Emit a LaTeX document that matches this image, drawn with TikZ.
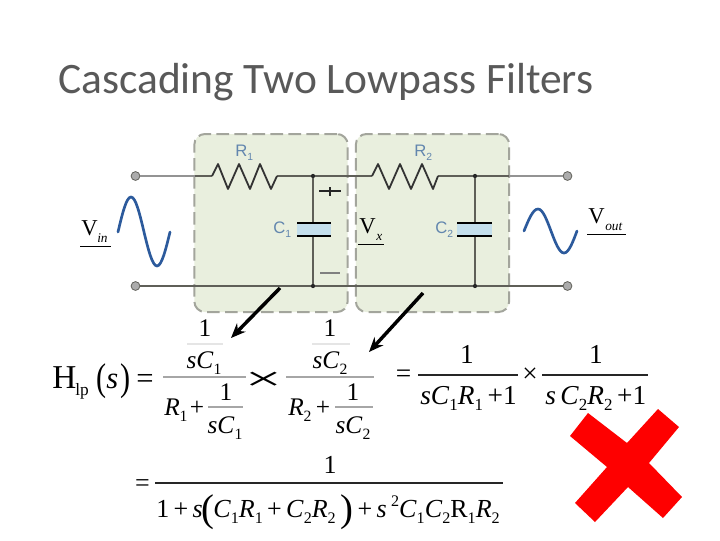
\documentclass[tikz,border=0pt]{standalone}
\usepackage{fontspec}
\usepackage{graphicx}
\setmainfont{Liberation Serif}
\newfontfamily\arialf{Liberation Sans}
\newfontfamily\titlef{Carlito}
\usetikzlibrary{arrows.meta}
\definecolor{boxfill}{HTML}{E9EFDE}
\definecolor{boxedge}{HTML}{A3A59C}
\definecolor{wirec}{HTML}{5F5F58}
\definecolor{labelc}{HTML}{6286AE}
\definecolor{sinec}{HTML}{2C5A9C}
\definecolor{capfill}{HTML}{C4DFEC}
\definecolor{xred}{HTML}{FE0000}
\newcommand\sbx[1]{\raisebox{-.24em}{\scalebox{.62}{#1}}}
\newcommand\spx[1]{\raisebox{.42em}{\scalebox{.62}{#1}}}
\newcommand\ii[1]{\textit{#1}}
\newcommand\szA{\fontsize{19}{20}\selectfont}
\newcommand\szR{\fontsize{20.5}{22}\selectfont}
\newcommand\szD{\fontsize{19.5}{21}\selectfont}
\tikzset{
  blockbox/.style={draw=boxedge,fill=boxfill,line width=1.5pt,rounded corners=8pt,dash pattern=on 9.5pt off 4pt},
  wire/.style={draw=wirec,line width=1.05pt},
  zig/.style={draw=black!80,line width=1.35pt,line join=round},
  outwire/.style={draw=gray!85,line width=1.15pt},
  term/.style={circle,draw=wirec,fill=gray!65,line width=.6pt,minimum size=6.6pt,inner sep=0pt},
  junct/.style={circle,fill=black!85,minimum size=3.2pt,inner sep=0pt},
  plate/.style={draw=black,line width=2.1pt},
  capbody/.style={fill=capfill,draw=none},
  sinew/.style={draw=sinec,line width=2pt,line cap=round},
  part/.style={font=\arialf\fontsize{12.5}{14}\selectfont,text=labelc,inner sep=0pt,anchor=base west},
  eq/.style={inner sep=0pt,anchor=base,font=\szA},
  eqw/.style={inner sep=0pt,anchor=base west,font=\szA},
  rq/.style={inner sep=0pt,anchor=base,font=\szR},
  rqw/.style={inner sep=0pt,anchor=base west,font=\szR},
  dq/.style={inner sep=0pt,anchor=base,font=\szD},
  dqw/.style={inner sep=0pt,anchor=base west,font=\szD},
  dqe/.style={inner sep=0pt,anchor=base east,font=\szD},
  bigp/.style={inner sep=0pt,anchor=base west,font=\fontsize{29}{31}\selectfont},
  volt/.style={inner sep=0pt,anchor=base west,font=\fontsize{17}{18}\selectfont},
  voltsub/.style={inner sep=0pt,anchor=base west,font=\fontsize{10}{11}\selectfont},
  voltrule/.style={draw=black,line width=.6pt},
  fracrule/.style={draw=black!85,line width=.95pt},
  softrule/.style={draw=gray!70,line width=.95pt},
  faintrule/.style={draw=gray!20,line width=.8pt},
  pointer/.style={draw=black,line width=2.6pt,-{Stealth[length=11pt,width=9pt]}},
  polar/.style={draw=black!85,line width=.8pt}
}
\begin{document}
\begin{tikzpicture}[x=.75pt,y=-.75pt]
\useasboundingbox (0,0) rectangle (720,540);
\fill[white] (0,0) rectangle (720,540);
\node[inner sep=0pt,anchor=base west,font=\titlef\fontsize{32.6}{36}\selectfont,text=black!65] (title) at (58,93) {Cascading Two Lowpass Filters};
% blocks
\node[blockbox,minimum width=115pt,minimum height=133.5pt,inner sep=0pt] (blockA) at (271,223) {};
\node[blockbox,minimum width=115pt,minimum height=133.5pt,inner sep=0pt] (blockB) at (432.5,223) {};
% circuit points
\node[term] (tl) at (135.5,176) {};
\node[term] (bl) at (135.5,286) {};
\node[term] (tr) at (567.5,176) {};
\node[term] (br) at (567.5,286) {};
\node[junct] (j1t) at (313,176) {};
\node[junct] (j1b) at (313,286) {};
\node[junct] (j2t) at (475,176) {};
\node[junct] (j2b) at (475,286) {};
\coordinate (r1a) at (212,176);
\coordinate (r1b) at (277,176);
\coordinate (r2a) at (372,176);
\coordinate (r2b) at (438,176);
\coordinate (c1t) at (313,223);
\coordinate (c1b) at (313,236);
\coordinate (c2t) at (475,223);
\coordinate (c2b) at (475,236);
% wires
\draw[outwire] (tl) -- (195,176);
\draw[wire] (195,176) -- (r1a);
\draw[wire] (r1b) -- (j1t) -- (r2a);
\draw[wire] (r2b) -- (j2t) -- (509,176);
\draw[outwire] (509,176) -- (tr);
\draw[wire] (bl) -- (j1b) -- (j2b) -- (br);
\draw[zig] (r1a) -- (218,164) -- (228,189) -- (239,164) -- (250,189) -- (260,164) -- (271,189) -- (r1b);
\draw[zig] (r2a) -- (378,164) -- (389,189) -- (400,164) -- (411,189) -- (422,164) -- (433,189) -- (r2b);
\draw[wire] (j1t) -- (c1t);
\draw[wire] (c1b) -- (j1b);
\draw[wire] (j2t) -- (c2t);
\draw[wire] (c2b) -- (j2b);
% capacitors
\fill[capbody] (297,223) rectangle (331,236);
\draw[plate] (297,223) -- (331,223);
\draw[plate] (297,236) -- (331,236);
\fill[capbody] (457,223) rectangle (492,236);
\draw[plate] (457,223) -- (492,223);
\draw[plate] (457,236) -- (492,236);
% polarity
\draw[polar] (319,191) -- (341,191);
\draw[polar] (330,187) -- (330,196);
\draw[draw=gray,line width=.9pt] (320,273) -- (340,273);
% part labels
\node[part] (R1) at (235,156) {R\sbx{1}};
\node[part] (C1) at (273,233) {C\sbx{1}};
\node[part] (R2) at (414,156) {R\sbx{2}};
\node[part] (C2) at (435,233) {C\sbx{2}};
% sine waves
\draw[sinew] (118,232) sin (131,197) cos (144,232) sin (157,266) cos (170,232);
\draw[sinew] (524,231) sin (538,209) cos (551,231) sin (564,253) cos (577,231);
% voltage labels
\node[volt] (vin) at (81,235) {V};
\node[voltsub] (vinsub) at (97,242) {\ii{in}};
\draw[voltrule] (80,246) -- (111,246);
\node[volt] (vx) at (359,233) {V};
\node[voltsub] (vxsub) at (376,240) {\ii{x}};
\draw[voltrule] (358,244) -- (384,244);
\node[volt] (vout) at (588,223) {V};
\node[voltsub] (voutsub) at (605,230) {\ii{out}};
\draw[voltrule] (587,234) -- (626,234);
% pointers
\coordinate (p1a) at (280,288);
\coordinate (p1b) at (231,338);
\coordinate (p2a) at (423,293);
\coordinate (p2b) at (369,352);
\draw[pointer] (p1a) -- (p1b);
\draw[pointer] (p2a) -- (p2b);
% H_lp
\node[inner sep=0pt,anchor=base west,font=\fontsize{25}{27}\selectfont] (H) at (52,388) {H};
\node[inner sep=0pt,anchor=base west,font=\fontsize{13}{14}\selectfont] (lp) at (75,395) {lp};
\node[bigp] (lpar) at (96,390) {\scalebox{.78}[1]{(}};
\node[inner sep=0pt,anchor=base west,font=\fontsize{23}{25}\selectfont] (ss) at (106,388) {\ii{s}};
\node[bigp] (rpar) at (120,390) {\scalebox{.78}[1]{)}};
\node[inner sep=0pt,anchor=base west,font=\fontsize{23}{25}\selectfont] (eq0) at (136,388) {=};
% first fraction
\node[eq] (f1n) at (205,336) {1};
\draw[faintrule] (187,344) -- (223,344);
\node[eq] (f1s) at (204,368) {\ii{s}\ii{C}\sbx{1}};
\draw[softrule] (163,377) -- (246,377);
\node[eqw] (f1R) at (164,415) {\ii{R}\sbx{1}};
\node[eq] (f1p) at (197,415) {+};
\node[eq] (f1m) at (226,400) {1};
\draw[softrule] (208,407) -- (243,407);
\node[eq] (f1d) at (225,433) {\ii{s}\ii{C}\sbx{1}};
% big times
\node[inner sep=0pt,font=\szA] (bigx) at (263.5,381) {\scalebox{2.6}[1.35]{×}};
% second fraction
\node[eq] (f2n) at (330,336) {1};
\draw[faintrule] (312,344) -- (350,344);
\node[eq] (f2s) at (330,368) {\ii{s}\ii{C}\sbx{2}};
\draw[softrule] (286,377) -- (374,377);
\node[eqw] (f2R) at (288,415) {\ii{R}\sbx{2}};
\node[eq] (f2p) at (323,415) {+};
\node[eq] (f2m) at (353,400) {1};
\draw[softrule] (335,407) -- (373,407);
\node[eq] (f2d) at (353,433) {\ii{s}\ii{C}\sbx{2}};
% second expression
\node[rq] (eq1) at (403.5,382) {=};
\node[rq] (f3n) at (467,363) {1};
\draw[fracrule] (418,375) -- (518,375);
\node[rqw] (f3d) at (420,404) {\ii{s}\ii{C}\sbx{1}\ii{R}\sbx{1}\,+1};
\node[rq] (tm) at (530,382) {×};
\node[rq] (f4n) at (596,363) {1};
\draw[fracrule] (542,375) -- (648,375);
\node[rqw] (f4d) at (545,404) {\ii{s}\,\ii{C}\sbx{2}\ii{R}\sbx{2}\,+1};
% third expression
\node[dq] (eq2) at (142.5,491) {=};
\node[dq] (f5n) at (330,473) {1};
\draw[fracrule] (155,483) -- (503,483);
\node[dqw] (d1) at (156,517) {1\,+\,\ii{s}};
\node[bigp] (d2) at (201,521) {(};
\node[dqw] (d3) at (213,517) {\ii{C}\sbx{1}\ii{R}\sbx{1}\,+\,\ii{C}\sbx{2}\ii{R}\sbx{2}};
\node[bigp] (d4) at (340,521) {)};
\node[dqe] (d5) at (500,517) {+\,\ii{s}\,\spx{2}\ii{C}\sbx{1}\ii{C}\sbx{2}R\sbx{1}\ii{R}\sbx{2}};
% red cross
\fill[xred] (588,413) -- (627,443) -- (658,409) -- (679,427) -- (649,463) -- (682,497) -- (663,518) -- (628,487) -- (595,522) -- (575,503) -- (607,467) -- (570,436) -- cycle;
\end{tikzpicture}
\end{document}
